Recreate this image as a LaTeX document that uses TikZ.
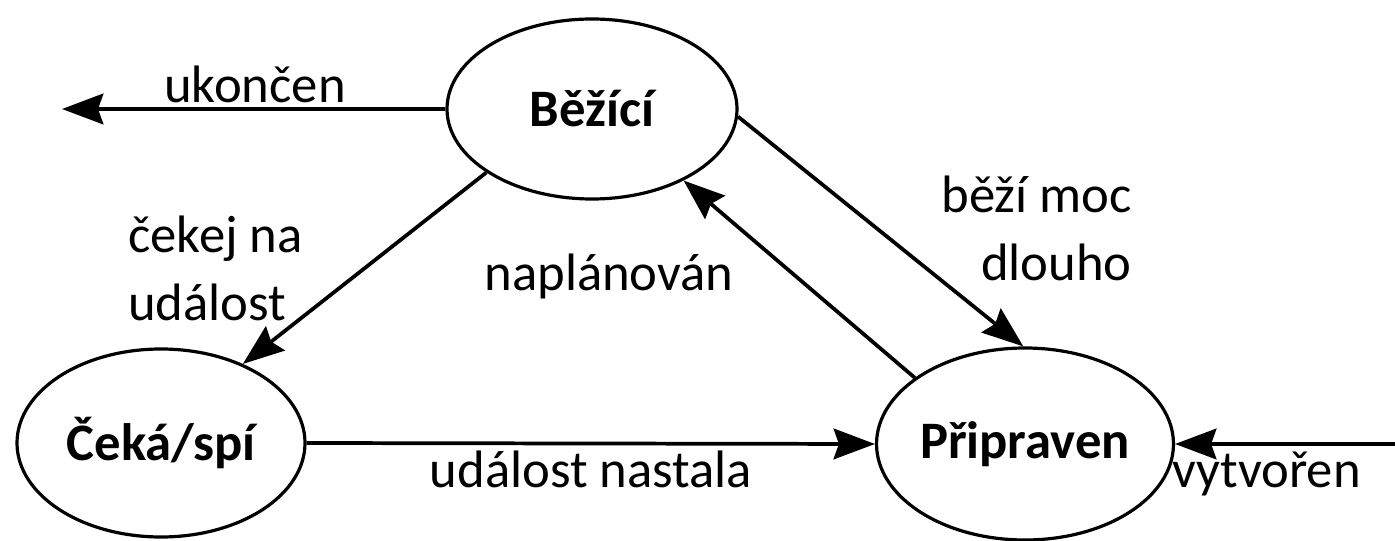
\documentclass[tikz,border=0pt]{standalone}
\usepackage{fontspec}
\setmainfont{Carlito}
\usetikzlibrary{shapes.geometric,arrows.meta}
\begin{document}
\begin{tikzpicture}[x=0.75pt,y=-0.75pt,
  every node/.style={font=\fontsize{39.5}{47}\selectfont},
  state/.style={ellipse,draw,line width=2.4pt,inner sep=0pt,font=\fontsize{39.5}{47}\selectfont\bfseries},
  lbl/.style={inner sep=0pt},
  conn/.style={line width=2.8pt,-{Stealth[length=31pt,width=23pt,inset=4pt]}}]
\useasboundingbox (0,0) rectangle (1395,541);
\node[state,minimum width=217.5pt,minimum height=135pt] (run) at (592,109) {Běžící};
\node[state,minimum width=216pt,minimum height=141pt] (wait) at (161,443) {Čeká/spí};
\node[state,minimum width=217.5pt,minimum height=144pt] (ready) at (1025,444) {Připraven};
\coordinate (endp) at (62,109);
\coordinate (newp) at (1395,444);
\draw[conn] (run.west) -- (endp);
\draw[conn] (run.211) -- (wait.44);
\draw[conn] (ready.149) -- (run.-38);
\draw[conn] (run.-3) -- (ready.91);
\draw[conn] (wait.east) -- (ready.west);
\draw[conn] (newp) -- (ready.east);
\node[lbl,anchor=base] (l1) at (255,103) {ukončen};
\node[lbl,anchor=base west,align=left] (l2) at (128,321) {čekej na\\[4.5pt]událost};
\node[lbl,anchor=base] (l3) at (609,291) {naplánován};
\node[lbl,anchor=base east,align=right] (l4) at (1132,281) {běží moc\\[4.5pt]dlouho};
\node[lbl,anchor=base] (l5) at (591,487) {událost nastala};
\node[lbl,anchor=base west] (l6) at (1172,487) {vytvořen};
\end{tikzpicture}
\end{document}
